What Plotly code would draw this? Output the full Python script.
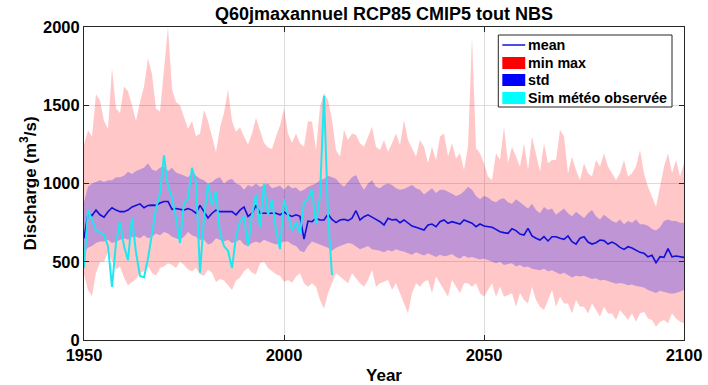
import plotly.graph_objects as go

years = list(range(1950, 2101))

mean_q = [
    650, 810, 795, 830, 800, 785, 820, 845, 830, 820,
    820, 830, 850, 860, 870, 845, 860, 862, 860, 875,
    885, 885, 835, 840, 835, 830, 840, 830, 810, 860,
    820, 780, 810, 830, 820, 820, 822, 820, 800, 830,
    850, 790, 810, 860, 810, 810, 810, 808, 810, 800,
    818, 800, 790, 800, 790, 645, 760, 756, 778, 767,
    767, 805, 770, 750, 767, 771, 763, 778, 826, 767,
    788, 800, 788, 771, 756, 735, 778, 767, 771, 750,
    767, 746, 728, 720, 713, 703, 735, 741, 724, 756,
    767, 746, 756, 746, 741, 767, 756, 746, 724, 741,
    728, 724, 720, 707, 692, 686, 682, 711, 699, 677,
    671, 713, 665, 650, 639, 660, 633, 660, 660, 650,
    643, 665, 628, 613, 650, 660, 626, 613, 622, 639,
    635, 613, 626, 613, 592, 579, 596, 588, 575, 560,
    554, 532, 541, 494, 532, 528, 584, 532, 537, 532,
    528]

max_q = [
    1250, 1340, 1300, 1570, 1530, 1400, 1350, 1740, 1480, 1450,
    1620, 1590, 1500, 1400, 1520, 1620, 1800, 1700, 1480, 1460,
    1730, 2000, 1600, 1520, 1500, 1420, 1350, 1400, 1300, 1320,
    1470, 1400, 1300, 1200, 1360, 1450, 1600, 1400, 1330, 1360,
    1300, 1250, 1320, 1420, 1340, 1260, 1230, 1220, 1300, 1370,
    1480, 1320, 1260, 1320, 1257, 1235, 1400, 1395, 1214, 1491,
    1576, 1534, 1406, 1214, 1172, 1342, 1278, 1320, 1310, 1257,
    1235, 1300, 1363, 1235, 1214, 1278, 1203, 1257, 1320, 1246,
    1406, 1278, 1225, 1172, 1278, 1235, 1129, 1235, 1150, 1300,
    1320, 1172, 1257, 1161, 1193, 1086, 1235, 1938, 1225, 1193,
    1129, 1044, 1022, 1193, 1150, 1363, 1129, 1235, 1172, 1108,
    1257, 1086, 1300, 1193, 1076, 1257, 1129, 1150, 1150, 1342,
    1300, 1065, 1172, 1086, 1022, 1129, 1065, 1044, 1150, 1108,
    1193, 1108, 1065, 1022, 1065, 1150, 1044, 1065, 1108, 1214,
    1065, 980, 916, 852, 980, 1108, 1193, 1065, 1150, 1044,
    1129]

min_q = [
    420, 320, 280, 430, 500, 500, 560, 500, 450, 470,
    400, 350, 370, 390, 430, 440, 470, 430, 410, 460,
    470, 490, 480, 460, 500, 480, 450, 440, 460, 420,
    410, 450, 430, 370, 390, 380, 350, 320, 380, 400,
    440, 460, 430, 420, 490, 500, 460, 440, 420, 410,
    373, 383, 366, 405, 426, 362, 341, 362, 341, 256,
    200, 298, 362, 426, 405, 383, 362, 426, 394, 362,
    341, 383, 447, 341, 362, 373, 383, 320, 362, 298,
    234, 170, 298, 362, 341, 373, 383, 298, 405, 362,
    320, 277, 383, 341, 298, 362, 362, 341, 362, 298,
    277, 320, 362, 277, 341, 277, 288, 298, 213, 298,
    256, 234, 341, 256, 213, 192, 256, 320, 213, 277,
    234, 234, 170, 256, 213, 213, 170, 234, 192, 149,
    213, 170, 170, 128, 192, 160, 128, 170, 117, 170,
    181, 138, 128, 85, 117, 128, 107, 170, 138, 117,
    107]

std_up = [
    880, 980, 1000, 1010, 1020, 1010, 1020, 1020, 1040, 1040,
    1050, 1075, 1060, 1080, 1090, 1100, 1130, 1090, 1080, 1100,
    1110, 1080, 1100, 1070, 1060, 1050, 1040, 1070, 1050, 1030,
    1020, 1000, 1010, 1030, 1040, 1000, 1020, 1030, 1000, 990,
    960, 990, 980, 1000, 980, 990, 1000, 970, 980, 985,
    960, 990, 970, 975, 950, 960, 980, 990, 1000, 1020,
    1030, 1050, 1040, 1030, 1000, 980, 1010, 1040, 1054, 1000,
    960, 1000, 1020, 980, 970, 990, 1000, 990, 970, 960,
    965, 980, 990, 970, 960, 930, 950, 970, 940, 960,
    960, 950, 935, 920, 930, 950, 980, 960, 920, 900,
    920, 910, 890, 880, 900, 905, 880, 870, 900, 880,
    860, 840, 870, 830, 810, 850, 830, 840, 800, 820,
    840, 810, 790, 820, 800, 780, 810, 830, 790, 770,
    800, 780, 760, 750, 770, 740, 760, 750, 770, 740,
    740, 730, 710, 700, 720, 760, 770, 760, 760, 750,
    750]

std_low = [
    560, 590, 600, 620, 630, 630, 640, 620, 630, 640,
    650, 640, 660, 660, 650, 670, 650, 660, 680, 670,
    690, 680, 660, 650, 640, 660, 690, 670, 660, 640,
    640, 610, 620, 650, 640, 630, 640, 620, 630, 640,
    610, 600, 620, 630, 620, 640, 630, 620, 610, 620,
    630, 630, 610, 600, 570, 560, 600, 630, 620, 610,
    600, 590, 570, 590, 600, 610, 620, 615, 600, 580,
    590, 600, 580, 575, 570, 560, 575, 565, 580, 570,
    565, 555, 545, 560, 550, 540, 555, 545, 530, 545,
    535, 540, 550, 530, 520, 540, 525, 530, 520, 515,
    520, 510, 505, 490, 500, 480, 485, 490, 470, 480,
    465, 470, 455, 450, 445, 455, 440, 445, 430, 420,
    430, 415, 400, 410, 405, 410, 400, 390, 395, 380,
    385, 375, 370, 360, 365, 360, 350, 355, 345, 340,
    335, 320, 310, 300, 315, 305, 300, 295, 300, 310,
    320]

obs_years = list(range(1950, 2013))
obs_q = [
    460, 830, 770, 700, 690, 670, 600, 340, 620, 760,
    600, 510, 780, 560, 410, 400, 520, 680, 840, 940,
    1180, 980, 910, 780, 620, 880, 900, 1100, 1010, 430,
    780, 1000, 860, 950, 680, 600, 570, 460, 660, 760,
    790, 600, 800, 930, 720, 1000, 800, 900, 700, 580,
    900, 800, 700, 750, 680, 880, 900, 960, 740, 920,
    1560, 800, 415]

title_text = "Q60jmaxannuel RCP85 CMIP5 tout NBS"
x_title = "Year"
y_title = "Discharge (m<sup>3</sup>/s)"
x_ticks = [1950, 2000, 2050, 2100]
y_ticks = [0, 500, 1000, 1500, 2000]
legend_labels = ["mean", "min max", "std", "Sim météo observée"]

FONT = "Liberation Sans, Arial, sans-serif"
AX = "#262626"

fig = go.Figure()
fig.add_trace(go.Scatter(x=years, y=min_q, mode="lines", line=dict(width=0),
                         showlegend=False, hoverinfo="skip"))
fig.add_trace(go.Scatter(x=years, y=max_q, mode="lines", line=dict(width=0),
                         fill="tonexty", fillcolor="rgba(255,0,0,0.22)",
                         showlegend=False))
fig.add_trace(go.Scatter(x=years, y=std_low, mode="lines", line=dict(width=0),
                         showlegend=False, hoverinfo="skip"))
fig.add_trace(go.Scatter(x=years, y=std_up, mode="lines", line=dict(width=0),
                         fill="tonexty", fillcolor="rgba(0,0,255,0.25)",
                         showlegend=False))
fig.add_trace(go.Scatter(x=years, y=mean_q, mode="lines",
                         line=dict(color="#1010d8", width=1.6), showlegend=False))
fig.add_trace(go.Scatter(x=obs_years, y=obs_q, mode="lines",
                         line=dict(color="#20e6f0", width=2), showlegend=False))

# manual MATLAB-style legend (paper coordinates)
shapes = [
    dict(type="rect", xref="paper", yref="paper", x0=0.6905, x1=0.980,
         y0=0.7444, y1=0.9744, line=dict(color=AX, width=1),
         fillcolor="white", layer="above"),
    dict(type="line", xref="paper", yref="paper", x0=0.6972, x1=0.7354,
         y0=0.9425, y1=0.9425, line=dict(color="#2020e0", width=1.6), layer="above"),
    dict(type="rect", xref="paper", yref="paper", x0=0.6972, x1=0.7354,
         y0=0.8658, y1=0.9042, line=dict(width=0), fillcolor="#ff0000", layer="above"),
    dict(type="rect", xref="paper", yref="paper", x0=0.6972, x1=0.7354,
         y0=0.8115, y1=0.8498, line=dict(width=0), fillcolor="#0000ff", layer="above"),
    dict(type="rect", xref="paper", yref="paper", x0=0.6972, x1=0.7354,
         y0=0.7540, y1=0.7923, line=dict(width=0), fillcolor="#00ffff", layer="above"),
]
leg_y = [0.9425, 0.885, 0.8307, 0.7732]
annotations = [
    dict(text=lab, xref="paper", yref="paper", x=0.7370, y=yy, xanchor="left",
         yanchor="middle", showarrow=False,
         font=dict(family=FONT, size=14.3, color="black", weight="bold"))
    for lab, yy in zip(legend_labels, leg_y)
]

axis_common = dict(
    showline=True, linecolor=AX, linewidth=1, mirror="ticks",
    ticks="inside", ticklen=5, tickcolor=AX, tickwidth=1,
    showgrid=True, gridcolor="#dcdcdc", gridwidth=1, zeroline=False,
    automargin=False,
    tickfont=dict(family=FONT, size=16.5, color="black", weight="bold"),
)

fig.update_layout(
    width=708, height=385,
    margin=dict(l=84, r=24, t=27, b=45),
    paper_bgcolor="white", plot_bgcolor="white",
    title=dict(text=title_text, x=0.5, xref="paper", y=1 - 14 / 385,
               yref="container", xanchor="center", yanchor="middle",
               font=dict(family=FONT, size=18, color="black", weight="bold")),
    xaxis=dict(range=[1950, 2100], tickvals=x_ticks,
               title=dict(text=x_title, standoff=8,
                          font=dict(family=FONT, size=17, color="black", weight="bold")),
               **axis_common),
    yaxis=dict(range=[0, 2000], tickvals=y_ticks,
               title=dict(text=y_title, standoff=2,
                          font=dict(family=FONT, size=17, color="black", weight="bold")),
               **axis_common),
    shapes=shapes,
    annotations=annotations,
    showlegend=False,
)

fig.write_html("out.html", post_script="document.body.style.margin='0';",
               config={"displayModeBar": False})
